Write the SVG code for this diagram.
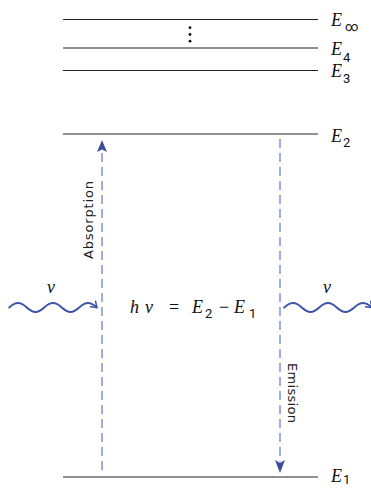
<svg xmlns="http://www.w3.org/2000/svg" width="371" height="488" viewBox="0 0 371 488">
<style>
.lvl{stroke:#222;stroke-width:1;fill:none}
.E{font-family:"Liberation Serif","DejaVu Serif",serif;font-style:italic;font-size:18px;fill:#111}
.sub{font-family:"Roboto","Liberation Sans",sans-serif;font-size:13px;fill:#111}
.lab{font-family:"DejaVu Sans","Liberation Sans",sans-serif;font-size:13px;fill:#222}
.dash{stroke:#7f93d6;stroke-width:1.5;stroke-dasharray:9 5;fill:none}
.wave{stroke:#3d55a8;stroke-width:2;fill:none;stroke-linecap:round}
.head{fill:#3a4d9f}
</style>
<defs>
<marker id="chev" markerWidth="10" markerHeight="10" refX="0" refY="0" viewBox="-8 -6 10 12" orient="auto" markerUnits="userSpaceOnUse">
<path d="M-6,-4.5 L0,0 L-6,4.5" fill="none" stroke="#3d55a8" stroke-width="1.8" stroke-linecap="round" stroke-linejoin="round"/>
</marker>
</defs>
<g id="levels">
<g id="E_inf"><line class="lvl" x1="63" y1="19.5" x2="318" y2="19.5"/><text class="E" x="331" y="26">E</text><text class="sub" x="345" y="31">∞</text></g>
<g id="E_4"><line class="lvl" x1="63" y1="48" x2="318" y2="48"/><text class="E" x="331" y="55">E</text><text class="sub" x="343" y="62">4</text></g>
<g id="E_3"><line class="lvl" x1="63" y1="70.5" x2="318" y2="70.5"/><text class="E" x="331" y="77">E</text><text class="sub" x="343" y="83">3</text></g>
<g id="E_2"><line class="lvl" x1="63" y1="134" x2="318" y2="134"/><text class="E" x="331" y="142">E</text><text class="sub" x="343" y="147">2</text></g>
<g id="E_1"><line class="lvl" x1="63" y1="477" x2="318" y2="477"/><text class="E" x="331" y="482">E</text><text class="sub" x="343" y="484">1</text></g>
<g id="dots" fill="#111"><circle cx="190" cy="27.7" r="1.4"/><circle cx="190" cy="34.5" r="1.4"/><circle cx="190" cy="41.2" r="1.4"/></g>
</g>
<g id="connectors">
<g id="absorption">
<line class="dash" x1="102" y1="470" x2="102" y2="150"/>
<path class="head" d="M102,140 L107,152 L102,149.5 L97,152 Z"/>
<text class="lab" transform="translate(93,220) rotate(-90)" text-anchor="middle" textLength="78" lengthAdjust="spacing">Absorption</text>
</g>
<g id="emission">
<line class="dash" x1="280" y1="139" x2="280" y2="462"/>
<path class="head" d="M280,473 L285,460 L280,463 L275,460 Z"/>
<text class="lab" transform="translate(288,393) rotate(90)" text-anchor="middle" textLength="60" lengthAdjust="spacing">Emission</text>
</g>
<g id="photon_in">
<path class="wave" marker-end="url(#chev)" d="M9.25,307.5 C15.6,301.6 20.4,301.6 26.75,307.5 C33.1,313.4 37.9,313.4 44.25,307.5 C50.6,301.6 55.4,301.6 61.75,307.5 C68.1,313.4 72.9,313.4 79.25,307.5 C85.6,301.6 90.4,301.6 96.75,307.5"/>
<text class="E" x="47" y="293">ν</text>
</g>
<g id="photon_out">
<path class="wave" marker-end="url(#chev)" d="M284.25,307.5 C290.6,301.6 295.4,301.6 301.75,307.5 C308.1,313.4 312.9,313.4 319.25,307.5 C325.6,301.6 330.4,301.6 336.75,307.5 C343.1,313.4 347.9,313.4 354.25,307.5 C360.6,301.6 365.4,301.6 371.75,307.5"/>
<text class="E" x="323" y="293">ν</text>
</g>
</g>
<g id="equation">
<text class="E" y="313"><tspan x="130">h</tspan><tspan x="145">ν</tspan><tspan x="169" style="font-style:normal">=</tspan><tspan x="192">E</tspan></text>
<text class="sub" x="205" y="318">2</text>
<text class="E" x="219" y="313" style="font-style:normal">−</text>
<text class="E" x="234" y="313">E</text>
<text class="sub" x="249" y="318">1</text>
</g>
</svg>
